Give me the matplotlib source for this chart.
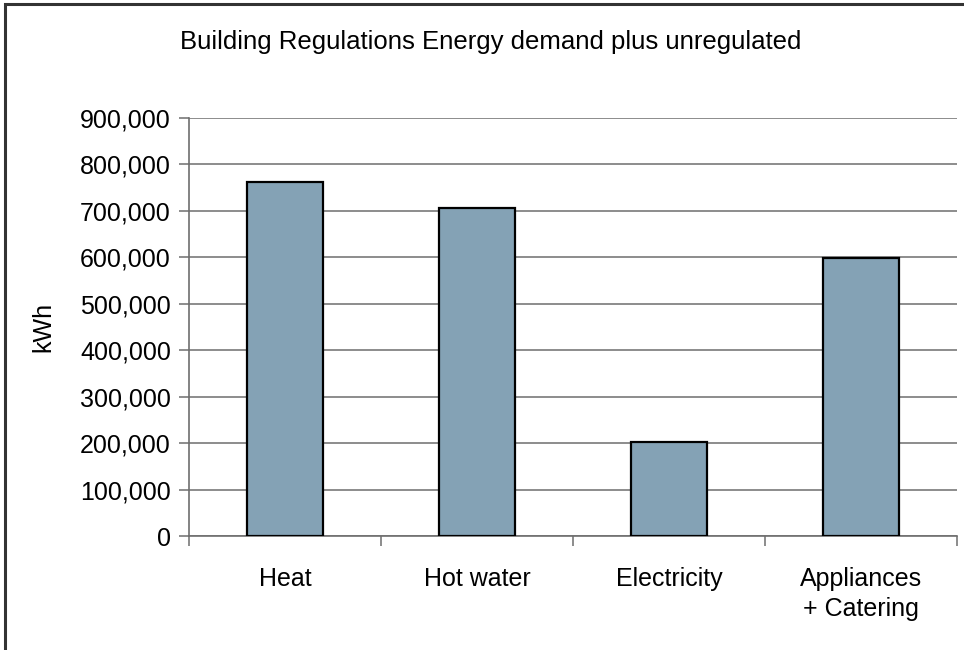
import matplotlib.pyplot as plt
from matplotlib.patches import Rectangle
from matplotlib.ticker import FuncFormatter, FixedLocator
import numpy as np

# Annual demand by end use (kWh)
categories = ['Heat', 'Hot water', 'Electricity', 'Appliances\n+ Catering']
demand_kwh = [763000, 707000, 202000, 599000]

plt.rcParams['font.family'] = ['Liberation Sans', 'DejaVu Sans']

fig = plt.figure(figsize=(9.64, 6.5), dpi=100)

# chart frame
fig.patches.append(Rectangle((5 / 964, -0.1), 1.1, 1.1 - 4 / 650,
                             transform=fig.transFigure, fill=False,
                             edgecolor='#333333', linewidth=2.2))

ax = fig.add_axes([189 / 964, (650 - 536) / 650, 768 / 964, 418 / 650])

x = np.arange(len(categories))
ax.bar(x, demand_kwh, width=0.4, color='#84a2b5', edgecolor='black',
       linewidth=1.6, zorder=3)

ax.set_xlim(-0.5, len(categories) - 0.5)
ax.set_ylim(0, 900000)
ax.set_yticks(np.arange(0, 900001, 100000))
ax.yaxis.set_major_formatter(FuncFormatter(lambda v, p: f'{int(v):,}'))
ax.yaxis.grid(True, color='#6e6e6e', linewidth=1.1, zorder=0)

# category ticks sit between bars, labels under each bar
ax.xaxis.set_major_locator(FixedLocator(np.arange(-0.5, len(categories), 1.0)))
ax.xaxis.set_major_formatter(FuncFormatter(lambda v, p: ''))
ax.xaxis.set_minor_locator(FixedLocator(x))
ax.set_xticklabels(categories, minor=True, linespacing=1.35)
ax.tick_params(axis='x', which='minor', length=0, pad=22, labelsize=18)
ax.tick_params(axis='x', which='major', length=7, width=1.1, color='#6e6e6e',
               direction='out')
ax.tick_params(axis='y', length=7, width=1.1, color='#6e6e6e', labelsize=18,
               pad=6)

for side in ['top', 'right']:
    ax.spines[side].set_visible(False)
for side in ['left', 'bottom']:
    ax.spines[side].set_color('#6e6e6e')
    ax.spines[side].set_linewidth(1.2)

ax.set_ylabel('kWh', fontsize=18, labelpad=18)
fig.text(491 / 964, 1 - 42 / 650, 'Building Regulations Energy demand plus unregulated',
         ha='center', va='center', fontsize=18.5)

fig.savefig('out.png', dpi=100)
